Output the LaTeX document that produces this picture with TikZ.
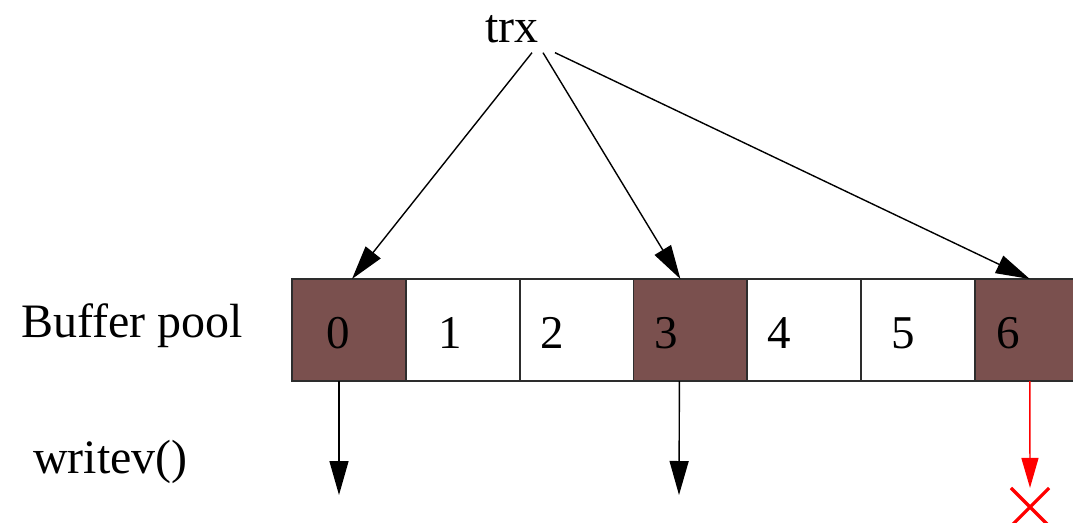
\documentclass[tikz,border=0pt]{standalone}
\usepackage{fontspec}
\setmainfont{Liberation Serif}
\usepackage{tikz}
\usetikzlibrary{arrows.meta,positioning,shapes.misc}
\definecolor{bpedge}{RGB}{45,45,45}
\definecolor{bpused}{RGB}{122,80,78}
\definecolor{bpfail}{RGB}{255,0,0}
\tikzset{
  slot/.style={
    draw=bpedge, line width=1.8pt, fill=white,
    minimum width=113.8pt, minimum height=102pt,
    inner sep=0pt, outer sep=0pt
  },
  used/.style={slot, fill=bpused},
  num/.style={inner sep=0pt, font=\fontsize{47}{56}\selectfont},
  lbl/.style={inner sep=0pt, font=\fontsize{48}{58}\selectfont},
  arr/.style={-{Triangle[length=34pt,width=19pt]}, draw=black, line width=1.4pt},
  farr/.style={arr, draw=bpfail, -{Triangle[length=30pt,width=17pt]}},
  stopmark/.style={cross out, draw=bpfail, line width=3.2pt, minimum size=35pt, inner sep=0pt}
}

\begin{document}
\begin{tikzpicture}[x=1pt, y=-1pt, node distance=0pt]
  \useasboundingbox (0,0) rectangle (1073,522);

  % the pool, one slot per page
  \node[used] (c0) at (349,330) {};
  \node[slot, right=of c0] (c1) {};
  \node[slot, right=of c1] (c2) {};
  \node[used, right=of c2] (c3) {};
  \node[slot, right=of c3] (c4) {};
  \node[slot, right=of c4] (c5) {};
  \node[used, right=of c5] (c6) {};

  \node[num, anchor=base west] (n0) at ([xshift=34pt,yshift=-18pt]c0.west) {0};
  \node[num, anchor=base west] (n1) at ([xshift=32pt,yshift=-18pt]c1.west) {1};
  \node[num, anchor=base west] (n2) at ([xshift=21pt,yshift=-18pt]c2.west) {2};
  \node[num, anchor=base west] (n3) at ([xshift=21pt,yshift=-18pt]c3.west) {3};
  \node[num, anchor=base west] (n4) at ([xshift=20pt,yshift=-18pt]c4.west) {4};
  \node[num, anchor=base west] (n5) at ([xshift=30pt,yshift=-18pt]c5.west) {5};
  \node[num, anchor=base west] (n6) at ([xshift=21pt,yshift=-18pt]c6.west) {6};

  % labels
  \node[lbl, anchor=base] (trx) at (512,42) {trx};
  \node[lbl, anchor=base west] (pool) at (21,337) {Buffer pool};
  \node[lbl, anchor=base west] (wv) at (33,473) {writev()};

  % trx owns slots 0, 3 and 6
  \draw[arr] ([xshift=20pt,yshift=-10pt]trx.south) -- ([xshift=3pt]c0.north);
  \draw[arr] ([xshift=31pt,yshift=-10pt]trx.south) -- ([xshift=-10pt]c3.north);
  \draw[arr] ([xshift=43pt,yshift=-10pt]trx.south) -- ([xshift=-2pt]c6.north);

  % writes
  \coordinate (w0) at (339,495);
  \coordinate (w3) at (679,495);
  \node[stopmark] (stop) at (1030,507) {};
  \draw[arr] ([xshift=-10pt]c0.south) -- (w0);
  \draw[arr] ([xshift=-11pt]c3.south) -- (w3);
  \draw[farr] ([xshift=-2pt]c6.south) -- (stop.north);
\end{tikzpicture}
\end{document}
